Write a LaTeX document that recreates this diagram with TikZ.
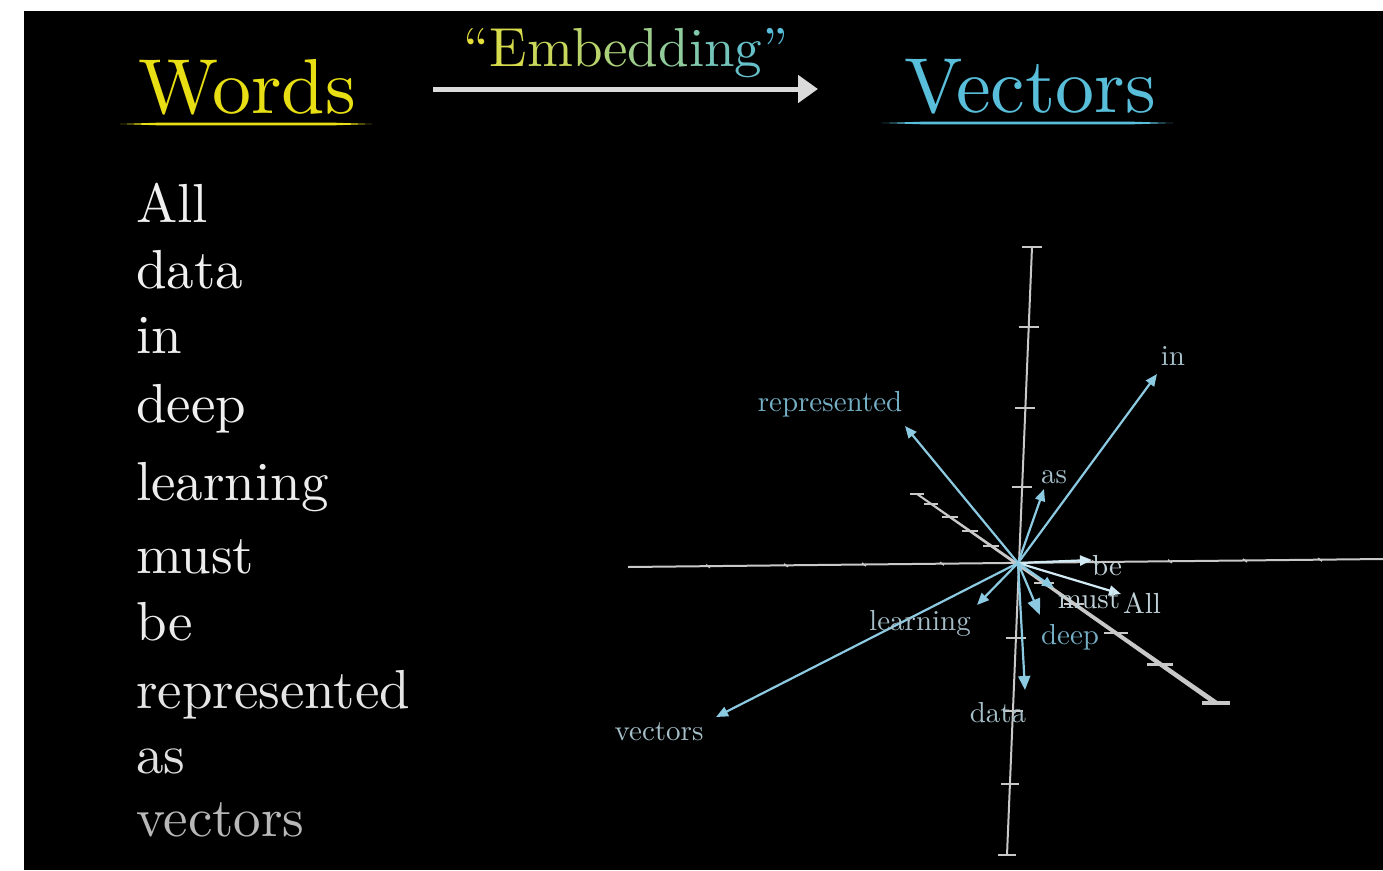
\documentclass[tikz,border=0pt]{standalone}
\usepackage{fontspec}
\setmainfont{lmroman10-regular.otf}
\usetikzlibrary{arrows.meta}

\definecolor{wordyellow}{RGB}{232,222,20}
\definecolor{vecblue}{RGB}{88,190,218}
\definecolor{embyellow}{RGB}{228,222,60}
\definecolor{axisgray}{RGB}{200,200,200}
\definecolor{arrowblue}{RGB}{140,202,226}
\definecolor{lblblue}{RGB}{118,176,198}
\definecolor{lblgray}{RGB}{165,190,200}

% one letter of the shaded caption
\newcommand\embcol[2]{\textcolor{vecblue!#1!embyellow}{#2}}

\tikzset{
  title/.style={inner sep=0, anchor=base, font=\fontsize{78}{86}\selectfont},
  word/.style={inner sep=0, anchor=base west, font=\fontsize{55}{62}\selectfont},
  vlabel/.style={inner sep=0, anchor=base, font=\fontsize{29}{33}\selectfont},
  vec/.style={arrowblue, line width=2.2pt, -{Triangle[length=12pt,width=10pt]}},
  axis/.style={axisgray, line width=2pt},
  tick/.style={axisgray, line width=2pt},
}

\begin{document}
\begin{tikzpicture}[x=1pt, y=-1pt]

% Canvas
\fill[white] (0,0) rectangle (1383,870);
\fill[black] (24,11) rectangle (1383,870);
\useasboundingbox (0,0) rectangle (1383,870);

% Headings with their underlines
\node[title, text=wordyellow] (words) at (247,113) {Words};
\node[title, text=vecblue] (vectors) at (1030,112) {Vectors};
\fill[wordyellow] (120,124) -- (160,122.6) -- (332,122.6) -- (372,124) -- (332,125.4) -- (160,125.4) -- cycle;
\fill[vecblue] (882,123) -- (925,121.6) -- (1130,121.6) -- (1173,123) -- (1130,124.4) -- (925,124.4) -- cycle;

% Embedding arrow
\node[inner sep=0, anchor=base, font=\fontsize{55}{60}\selectfont] (emb) at (626,66)
  {\embcol{0}{``}\embcol{10}{E}\embcol{20}{m}\embcol{30}{b}\embcol{40}{e}\embcol{50}{d}%
   \embcol{60}{d}\embcol{70}{i}\embcol{80}{n}\embcol{90}{g}\embcol{100}{''}};
\coordinate (embfrom) at (433,89);
\coordinate (embto) at (818,89);
\draw[white!86!black, line width=5pt, -{Triangle[length=20pt,width=27pt]}] (embfrom) -- (embto);

% Word list
\foreach \w/\yb/\c [count=\i] in {All/222/94, data/288/94, in/353/94, deep/422/94,
    learning/500/93, must/573/93, be/640/92, represented/708/90, as/773/88, vectors/836/72}
  \node[word, text=white!\c!black] (w\i) at (136,\yb) {\w};

% Horizontal axis
\draw[axis] (628,567) -- (1383,559);
\foreach \x in {708,786,864,942,1094,1170,1245,1320}
  \draw[tick, line width=1.5pt] ({\x-2},{565.5-8*(\x-628)/755}) -- ++(4,3);

% Vertical axis
\draw[axis] (1032,247) -- (1007,855);
\foreach \y/\h in {247/10, 327/10, 408/10, 487/10, 638/10, 711/10, 784/9, 855/9}
  \draw[tick] ({1032-25*(\y-247)/608-\h},\y) -- ++({2*\h},0);

% Depth axis, wider towards the front
\fill[axisgray] (916.4,494.8) -- (917.6,493.2) -- (1217.4,701) -- (1214.6,705.1) -- cycle;
\foreach \y/\h/\lw in {494/7/1.5, 504/7/1.5, 517/8/1.6, 531/8/1.7, 546/8/1.8,
    583/10/2.2, 604/10/2.4, 633/12/2.8, 664/13/3, 703/14/3.2}
  \draw[tick, line width=\lw pt] ({917+(\y-494)/0.699-\h},\y) -- ++({2*\h},0);

% Word vectors
\coordinate (O) at (1018,563);
\foreach \n/\x/\y in {in/1157/374, represented/905/426, as/1044/489, be/1092/560,
    All/1121/594, must/1054/588, deep/1040/615, data/1025/690, learning/977/605, vectors/716/717}
  \coordinate (t\n) at (\x,\y);

\draw[vec] (O) -- (tin);
\draw[vec] (O) -- (trepresented);
\draw[vec] (O) -- (tas);
\draw[vec, arrowblue!40!white] (O) -- (tbe);
\draw[vec, arrowblue!40!white] (O) -- (tAll);
\draw[vec] (O) -- (tmust);
\draw[vec, -{Triangle[length=16pt,width=13pt]}] (O) -- (tdeep);
\draw[vec, -{Triangle[length=14pt,width=12pt]}] (O) -- (tdata);
\draw[vec] (O) -- (tlearning);
\draw[vec] (O) -- (tvectors);

% Vector labels
\node[vlabel, text=lblgray] (lin) at (1173,365) {in};
\node[vlabel, text=lblblue] (lrepresented) at (830,411) {represented};
\node[vlabel, text=lblgray] (las) at (1054,483) {as};
\node[vlabel, text=lblgray!70!white] (lbe) at (1107,575) {be};
\node[vlabel, text=lblgray!70!white] (lmust) at (1089,608) {must};
\node[vlabel, text=lblgray!70!white] (lAll) at (1142,613) {All};
\node[vlabel, text=lblblue] (ldeep) at (1070,644) {deep};
\node[vlabel, text=lblgray] (ldata) at (998,722) {data};
\node[vlabel, text=lblgray] (llearning) at (920,630) {learning};
\node[vlabel, text=lblgray] (lvectors) at (659,740) {vectors};

\end{tikzpicture}
\end{document}
